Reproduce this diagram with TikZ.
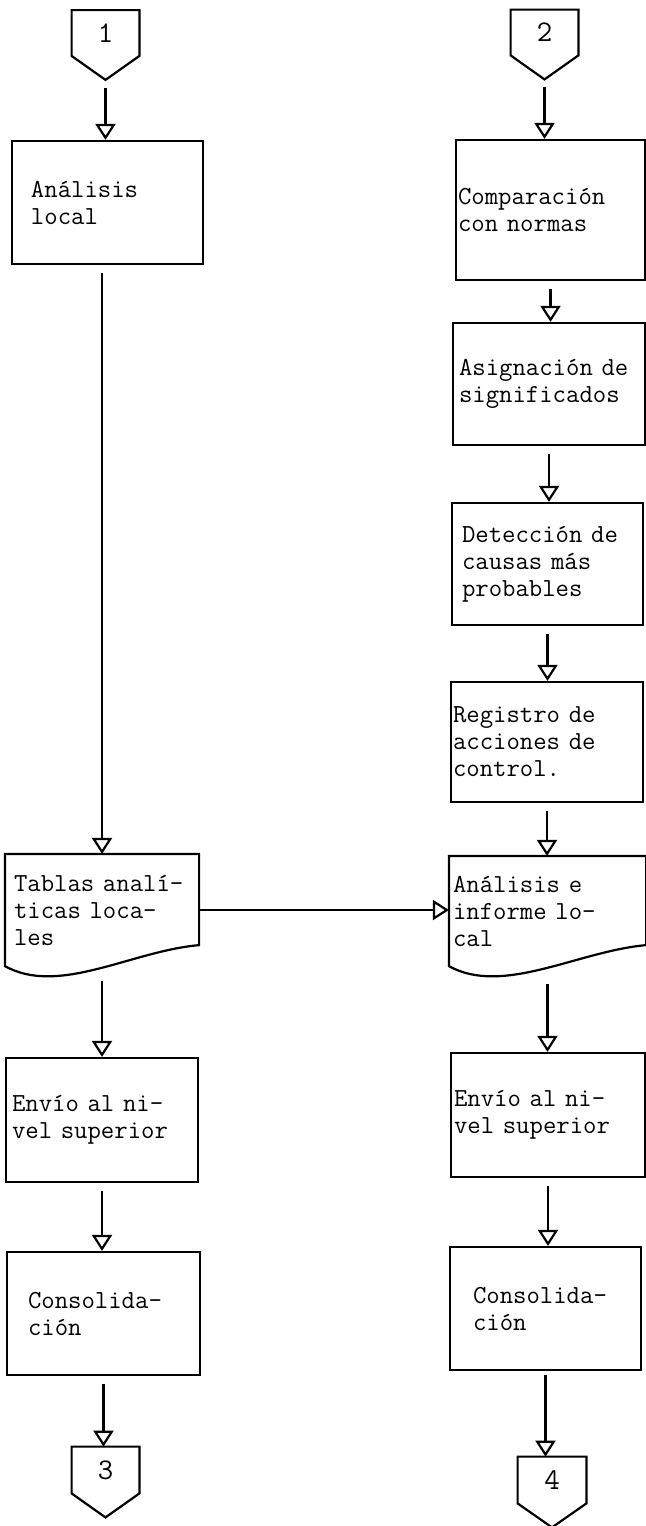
\documentclass[tikz,border=0pt]{standalone}
\usepackage{fontspec}
\usetikzlibrary{arrows.meta,calc}

\tikzset{
  proc/.style={draw, line width=1.1pt, minimum width=96pt, minimum height=61.5pt,
    inner xsep=2pt, text width=92pt, align=left,
    font=\fontsize{13}{13.5}\selectfont\ttfamily},
  docu/.style={proc, draw=none},
  conn/.style={minimum width=33.5pt, minimum height=22.5pt, inner sep=0pt,
    font=\fontsize{15}{15}\selectfont\ttfamily},
  flow/.style={line width=1.1pt, -{Triangle[open,width=10pt,length=8pt]}, shorten <=4pt}
}

\begin{document}
\begin{tikzpicture}[x=0.5pt,y=-0.5pt]
    \useasboundingbox (0,0) rectangle (646,1526);

    % left column
    \node[conn] (c1) at (105.5,33) {1};
    \node[proc, minimum width=95.5pt, inner xsep=9.5pt, text width=76.5pt] (l1) at (107.5,202.5) {Análisis\\local};
    \node[docu, minimum height=55pt, inner xsep=4pt, text width=88pt] (ldoc) at (102,910) {Tablas analí-\\ticas loca-\\les};
    \node[proc, minimum height=62pt, inner xsep=3pt, text width=90pt] (l2) at (102,1120) {Envío al ni-\\vel superior};
    \node[proc, minimum width=96.5pt, inner xsep=10.5pt, text width=75.5pt] (l3) at (103.5,1313.5) {Consolida-\\ción};
    \node[conn, minimum height=23pt] (c3) at (105.5,1470) {3};

    % right column
    \node[conn] (c2) at (544.5,32.5) {2};
    \node[proc, minimum width=94.5pt, minimum height=70pt, inner xsep=1pt, text width=92.5pt] (r1) at (550.5,210) {Comparación\\con normas};
    \node[proc, minimum height=61pt, inner xsep=3pt, text width=90pt] (r2) at (549,384) {Asignación de\\significados};
    \node[proc, minimum width=95.5pt, minimum height=61pt, inner xsep=5pt, text width=85.5pt] (r3) at (547.5,564) {Detección de\\causas más\\probables};
    \node[proc, minimum height=60pt, inner xsep=1pt, text width=94pt] (r4) at (547,742) {Registro de\\acciones de\\control.};
    \node[docu, minimum width=97.5pt, minimum height=54pt, inner xsep=1.5pt, text width=94.5pt] (rdoc) at (547.5,911) {Análisis e\\informe lo-\\cal};
    \node[proc, minimum width=97pt, minimum height=62pt, inner xsep=1.5pt, text width=94pt] (r5) at (548,1115) {Envío al ni-\\vel superior};
    \node[proc, minimum width=95.5pt, inner xsep=11.5pt, text width=72.5pt] (r6) at (545.5,1308.5) {Consolida-\\ción};
    \node[conn, minimum width=34pt, minimum height=23pt] (c4) at (552,1480) {4};

    % connector and document outlines
    \foreach \c in {c1,c2,c3,c4}
      \draw[line width=1.1pt] (\c.north west) -- (\c.north east) -- (\c.south east)
        -- ($(\c.south)+(0,24)$) -- (\c.south west) -- cycle;
    \foreach \d in {ldoc,rdoc}
      \draw[line width=1.1pt] (\d.south west) -- (\d.north west) -- (\d.north east)
        -- ($(\d.south east)+(0,-21)$) .. controls ($(\d.south east)+(-68,-15)$)
        and ($(\d.south west)+(54,30)$) .. (\d.south west) -- cycle;

    % flow
    \draw[flow, shorten <=16pt] (c1.south) -- (c1.south |- l1.north);
    \draw[flow] (l1.south -| ldoc.north) -- (ldoc.north);
    \draw[flow, shorten <=7.5pt] (ldoc.south) -- (ldoc.south |- l2.north);
    \draw[flow] (l2.south) -- (l2.south |- l3.north);
    \draw[flow] (l3.south) -- (l3.south |- c3.north);

    \draw[flow, shorten <=16pt] (c2.south) -- (c2.south |- r1.north);
    \draw[flow] (r1.south) -- (r1.south |- r2.north);
    \draw[flow] (r2.south) -- (r2.south |- r3.north);
    \draw[flow] (r3.south) -- (r3.south |- r4.north);
    \draw[flow] (r4.south) -- (r4.south |- rdoc.north);
    \draw[flow, shorten <=9pt] (rdoc.south) -- (rdoc.south |- r5.north);
    \draw[flow] (r5.south) -- (r5.south |- r6.north);
    \draw[flow, shorten <=2pt] (r6.south) -- (r6.south |- c4.north);

    \draw[flow, shorten <=0pt] (ldoc.east) -- (ldoc.east -| rdoc.west);
\end{tikzpicture}
\end{document}
